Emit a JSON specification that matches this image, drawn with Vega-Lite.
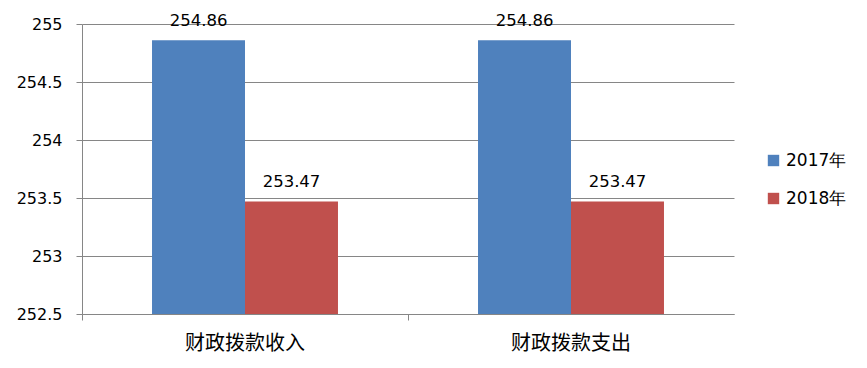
{
  "$schema": "https://vega.github.io/schema/vega-lite/v6.json",
  "autosize": {"type": "none"},
  "width": 652,
  "height": 290,
  "padding": {"left": 82, "top": 24, "right": 133, "bottom": 54},
  "background": "white",
  "config": {"view": {"stroke": null}, "font": "DejaVu Sans"},
  "data": {
    "values": [
      {"category": "财政拨款收入", "year": "2017年", "value": 254.86},
      {"category": "财政拨款收入", "year": "2018年", "value": 253.47},
      {"category": "财政拨款支出", "year": "2017年", "value": 254.86},
      {"category": "财政拨款支出", "year": "2018年", "value": 253.47}
    ]
  },
  "encoding": {
    "x": {
      "field": "category", "type": "nominal", "sort": null,
      "scale": {"paddingInner": 0, "paddingOuter": 0},
      "axis": {
        "title": null, "labelAngle": 0, "bandPosition": 0,
        "domainColor": "#868686", "tickColor": "#868686", "tickSize": 6,
        "labelFont": "Noto Sans CJK SC", "labelFontSize": 20, "labelColor": "#000000",
        "labelPadding": 13, "grid": false
      }
    },
    "xOffset": {"field": "year", "type": "nominal", "sort": null, "scale": {"paddingInner": 0, "paddingOuter": 0.753}},
    "y": {
      "field": "value", "type": "quantitative",
      "scale": {"domain": [252.5, 255], "zero": false, "nice": false},
      "axis": {
        "title": null, "values": [252.5, 253, 253.5, 254, 254.5, 255],
        "grid": true, "gridColor": "#868686", "domainColor": "#868686",
        "tickColor": "#868686", "tickSize": 6, "labelFontSize": 16,
        "labelColor": "#000000", "labelPadding": 14,
        "labelExpr": "datum.value"
      }
    }
  },
  "layer": [
    {
      "mark": {"type": "bar", "clip": true},
      "encoding": {
        "color": {
          "field": "year", "type": "nominal",
          "scale": {"domain": ["2017年", "2018年"], "range": ["#4F81BD", "#C0504D"]},
          "legend": {
            "title": null, "orient": "none", "legendX": 683, "legendY": 128,
            "symbolType": "square", "symbolSize": 130, "symbolStrokeWidth": 0,
            "labelFontSize": 17, "labelColor": "#000000", "rowPadding": 20,
            "labelOffset": 4
          }
        }
      }
    },
    {
      "mark": {"type": "text", "baseline": "alphabetic", "dy": -14, "fontSize": 16.5, "color": "#000000"},
      "encoding": {
        "text": {"field": "value", "type": "quantitative", "format": ".2f"}
      }
    }
  ]
}
